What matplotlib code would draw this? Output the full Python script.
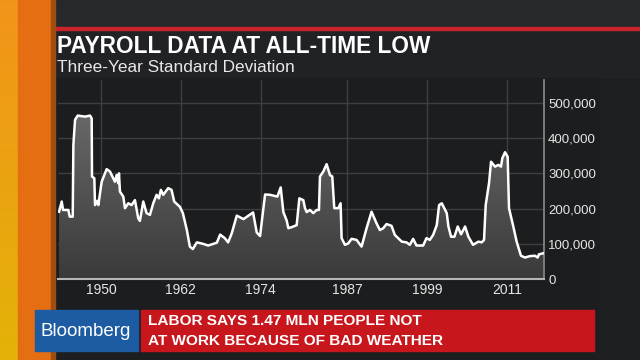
import numpy as np
import matplotlib.pyplot as plt
from matplotlib.patches import Rectangle
from matplotlib.colors import LinearSegmentedColormap

# three-year standard deviation of payrolls
years = [
    1943.7, 1944.1, 1944.3, 1945.1, 1945.3, 1945.75, 1945.85, 1946.1, 1946.5, 1947.6,
    1948.35, 1948.6, 1948.65, 1949.0, 1949.1, 1949.45, 1949.6, 1950.1, 1950.85, 1951.35,
    1952.1, 1952.35, 1952.6, 1952.7, 1952.85, 1953.35, 1953.6, 1954.1, 1954.6, 1955.1,
    1955.6, 1955.85, 1956.35, 1956.85, 1957.35, 1957.85, 1958.35, 1958.7, 1959.0, 1959.35,
    1960.1, 1960.6, 1961.0, 1961.85, 1962.3, 1962.9, 1963.35, 1963.8, 1964.4, 1965.3,
    1966.1, 1967.4, 1967.9, 1968.6, 1969.1, 1969.65, 1970.4, 1971.4, 1972.85, 1973.4,
    1973.9, 1974.65, 1975.4, 1976.5, 1977.0, 1977.4, 1977.9, 1978.15, 1978.9, 1979.4,
    1979.8, 1980.4, 1980.65, 1980.9, 1981.4, 1981.9, 1982.4, 1982.75, 1982.9, 1983.4,
    1983.9, 1984.4, 1984.75, 1985.05, 1985.65, 1986.0, 1986.15, 1986.65, 1987.15, 1987.65,
    1988.4, 1989.15, 1989.9, 1990.65, 1991.4, 1991.9, 1992.4, 1992.9, 1993.65, 1994.15,
    1994.65, 1995.2, 1995.9, 1996.4, 1996.9, 1997.4, 1997.9, 1998.4, 1998.9, 1999.4,
    1999.9, 2000.45, 2000.8, 2001.2, 2001.95, 2002.2, 2002.6, 2003.1, 2003.6, 2004.1,
    2004.7, 2005.2, 2005.9, 2006.7, 2007.2, 2007.55, 2007.8, 2008.3, 2008.6, 2009.2,
    2009.7, 2010.1, 2010.3, 2010.7, 2011.1, 2011.3, 2011.95, 2012.45, 2013.1, 2013.7,
    2014.45, 2015.2, 2015.6, 2015.8, 2016.45]

values_k = [
    191, 220, 196, 196, 177, 177, 381, 452, 464, 461,
    464, 456, 291, 286, 210, 222, 210, 276, 312, 305,
    276, 295, 272, 300, 248, 234, 201, 215, 210, 224,
    172, 165, 220, 187, 182, 215, 239, 229, 253, 239,
    258, 253, 220, 205, 187, 139, 92, 85, 104, 100,
    95, 103, 126, 116, 104, 130, 180, 170, 189, 132,
    122, 240, 239, 234, 260, 190, 166, 144, 149, 153,
    229, 224, 201, 190, 196, 187, 196, 196, 291, 305,
    326, 295, 291, 201, 201, 215, 116, 97, 101, 114,
    111, 92, 144, 191, 158, 139, 144, 156, 151, 125,
    116, 106, 104, 97, 114, 95, 95, 95, 116, 111,
    125, 153, 210, 215, 187, 149, 120, 120, 149, 127,
    149, 120, 97, 106, 104, 111, 210, 272, 333, 319,
    324, 319, 343, 360, 347, 201, 149, 106, 66, 61,
    65, 66, 61, 70, 73]

x_ticks = [1950, 1962, 1974, 1987, 1999, 2011]
y_ticks = [0, 100000, 200000, 300000, 400000, 500000]
y_labels = ["0", "100,000", "200,000", "300,000", "400,000", "500,000"]

title = "PAYROLL DATA AT ALL-TIME LOW"
subtitle = "Three-Year Standard Deviation"
headline = ["LABOR SAYS 1.47 MLN PEOPLE NOT", "AT WORK BECAUSE OF BAD WEATHER"]

plt.rcParams['font.family'] = ['Liberation Sans', 'DejaVu Sans']

x = np.array(years)
y = np.array(values_k) * 1000

fig = plt.figure(figsize=(6.4, 3.6), dpi=100, facecolor='#1d1e20')

# background layer in pixel coordinates
bg = fig.add_axes([0, 0, 1, 1])
bg.set_xlim(0, 640)
bg.set_ylim(360, 0)
bg.axis('off')

bg.add_patch(Rectangle((0, 0), 640, 27, color='#27282a'))
bg.add_patch(Rectangle((53, 30), 587, 48, color='#212225'))
bg.add_patch(Rectangle((53, 78), 545, 232, color='#1c1d1f'))
bg.add_patch(Rectangle((53, 27), 587, 3, color='#c9232b'))

# orange side strip
strip = np.linspace(0, 1, 100)[:, None, None]
top_c = np.array([0.95, 0.58, 0.10])
bot_c = np.array([0.89, 0.70, 0.03])
bg.imshow(top_c * (1 - strip) + bot_c * strip, extent=(0, 18, 360, 0), aspect='auto', zorder=1)
bg.add_patch(Rectangle((18, 0), 33, 360, color='#e66e12', zorder=1))
bg.add_patch(Rectangle((51, 0), 4, 360, color='#a04e10', zorder=1))

bg.text(57, 53, title, color='white', fontsize=16.3, fontweight='bold', va='baseline')
bg.text(57, 72, subtitle, color='#e8e8e8', fontsize=12.4, va='baseline')

# bottom banner
bg.add_patch(Rectangle((35, 310), 103, 41, color='#1d5ba3', zorder=2))
bg.add_patch(Rectangle((141, 310), 453, 41, color='#c8161d', zorder=2))
bg.text(40, 331, "Bloomberg", color='white', fontsize=13.5, va='center', zorder=3)
bg.text(148, 321, headline[0], color='white', fontsize=11.1, fontweight='bold',
        va='center', zorder=3)
bg.text(148, 341, headline[1], color='white', fontsize=11.1, fontweight='bold',
        va='center', zorder=3)

# chart
ax = fig.add_axes([58 / 640, (360 - 279) / 360, 486 / 640, 199 / 360])
ax.set_facecolor('none')

for t in x_ticks:
    ax.axvline(t, color='#3e3f42', lw=1, zorder=0)
for t in y_ticks[1:]:
    ax.axhline(t, color='#3e3f42', lw=1, zorder=0)

poly = ax.fill_between(x, y, 0, color='none', lw=0)
cmap = LinearSegmentedColormap.from_list('g', ['#3a3a3b', '#686869'])
grad = ax.imshow(np.linspace(0, 1, 256)[:, None], cmap=cmap, origin='lower',
                 extent=(1943.54, 2016.56, 0, 470000), aspect='auto', zorder=1)
grad.set_clip_path(poly.get_paths()[0], transform=ax.transData)
ax.set_xlim(1943.54, 2016.56)
ax.set_ylim(0, 565000)

ax.plot(x, y, color='white', lw=1.8, zorder=3)

for s in ['top', 'left']:
    ax.spines[s].set_visible(False)
ax.spines['bottom'].set_color('#b5b5b5')
ax.spines['bottom'].set_linewidth(1.5)
ax.spines['right'].set_color('#8c8c8c')
ax.spines['right'].set_linewidth(1.2)

ax.yaxis.tick_right()
ax.set_yticks(y_ticks)
ax.set_yticklabels(y_labels)
ax.set_xticks(x_ticks)
ax.set_xticklabels([str(t) for t in x_ticks])
ax.tick_params(length=0, colors='#e6e6e6', labelsize=9.5)
ax.tick_params(axis='y', pad=3)
ax.tick_params(axis='x', pad=3, labelsize=10)

fig.savefig('out.png', dpi=100, facecolor=fig.get_facecolor())
